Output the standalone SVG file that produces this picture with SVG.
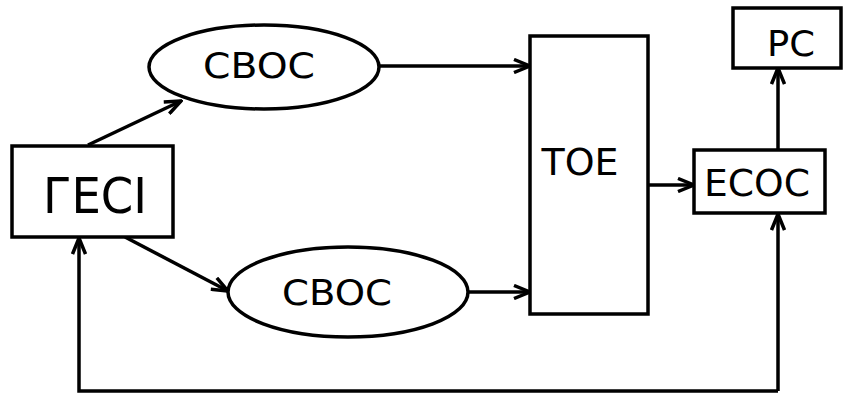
<svg xmlns="http://www.w3.org/2000/svg" width="843" height="394" viewBox="0 0 843 394">
<style>
.box{fill:#fff;stroke:#000;stroke-width:3.5}
.lbl{font-family:"DejaVu Sans","Liberation Sans",sans-serif;fill:#000;text-anchor:middle}
.ln{fill:none;stroke:#000;stroke-width:3.5}
</style>
<defs>
<marker id="ah" markerUnits="userSpaceOnUse" markerWidth="20" markerHeight="16" viewBox="0 0 20 16" refX="18" refY="8" orient="auto">
<path d="M2,1.5 L18,8 L2,14.5" fill="none" stroke="#000" stroke-width="3.5"/>
</marker>
</defs>
<rect width="843" height="394" fill="#fff"/>
<g id="connectors">
<line class="ln" x1="88" y1="145" x2="181" y2="101" marker-end="url(#ah)"/>
<line class="ln" x1="125" y1="237" x2="228" y2="291" marker-end="url(#ah)"/>
<line class="ln" x1="379" y1="66" x2="530" y2="66" marker-end="url(#ah)"/>
<line class="ln" x1="468" y1="292" x2="530" y2="292" marker-end="url(#ah)"/>
<line class="ln" x1="648" y1="185" x2="694" y2="185" marker-end="url(#ah)"/>
<line class="ln" x1="778" y1="150" x2="778" y2="68" marker-end="url(#ah)"/>
<polyline class="ln" points="778,391 778,214" marker-end="url(#ah)"/>
<polyline class="ln" points="778,391 79,391 79,238" marker-end="url(#ah)"/>
</g>
<g id="gesi">
<rect class="box" x="12" y="146" width="161" height="91"/>
<text class="lbl" x="95" y="213" font-size="50" textLength="104" lengthAdjust="spacingAndGlyphs">ГЕСІ</text>
</g>
<g id="cvoc1">
<ellipse class="box" cx="264" cy="67" rx="115" ry="42"/>
<text class="lbl" x="259" y="78" font-size="36" textLength="112" lengthAdjust="spacingAndGlyphs">CBOC</text>
</g>
<g id="cvoc2">
<ellipse class="box" cx="348" cy="292" rx="120" ry="45"/>
<text class="lbl" x="337" y="305" font-size="36" textLength="110" lengthAdjust="spacingAndGlyphs">CBOC</text>
</g>
<g id="toe">
<rect class="box" x="530" y="36" width="118" height="278"/>
<text class="lbl" x="580" y="175" font-size="37" textLength="77" lengthAdjust="spacingAndGlyphs">TOE</text>
</g>
<g id="ecoc">
<rect class="box" x="694" y="150" width="131" height="63"/>
<text class="lbl" x="757" y="196" font-size="38" textLength="106" lengthAdjust="spacingAndGlyphs">ECOC</text>
</g>
<g id="pc">
<rect class="box" x="733" y="8" width="108" height="60"/>
<text class="lbl" x="791" y="56" font-size="36" textLength="48" lengthAdjust="spacingAndGlyphs">PC</text>
</g>
</svg>
